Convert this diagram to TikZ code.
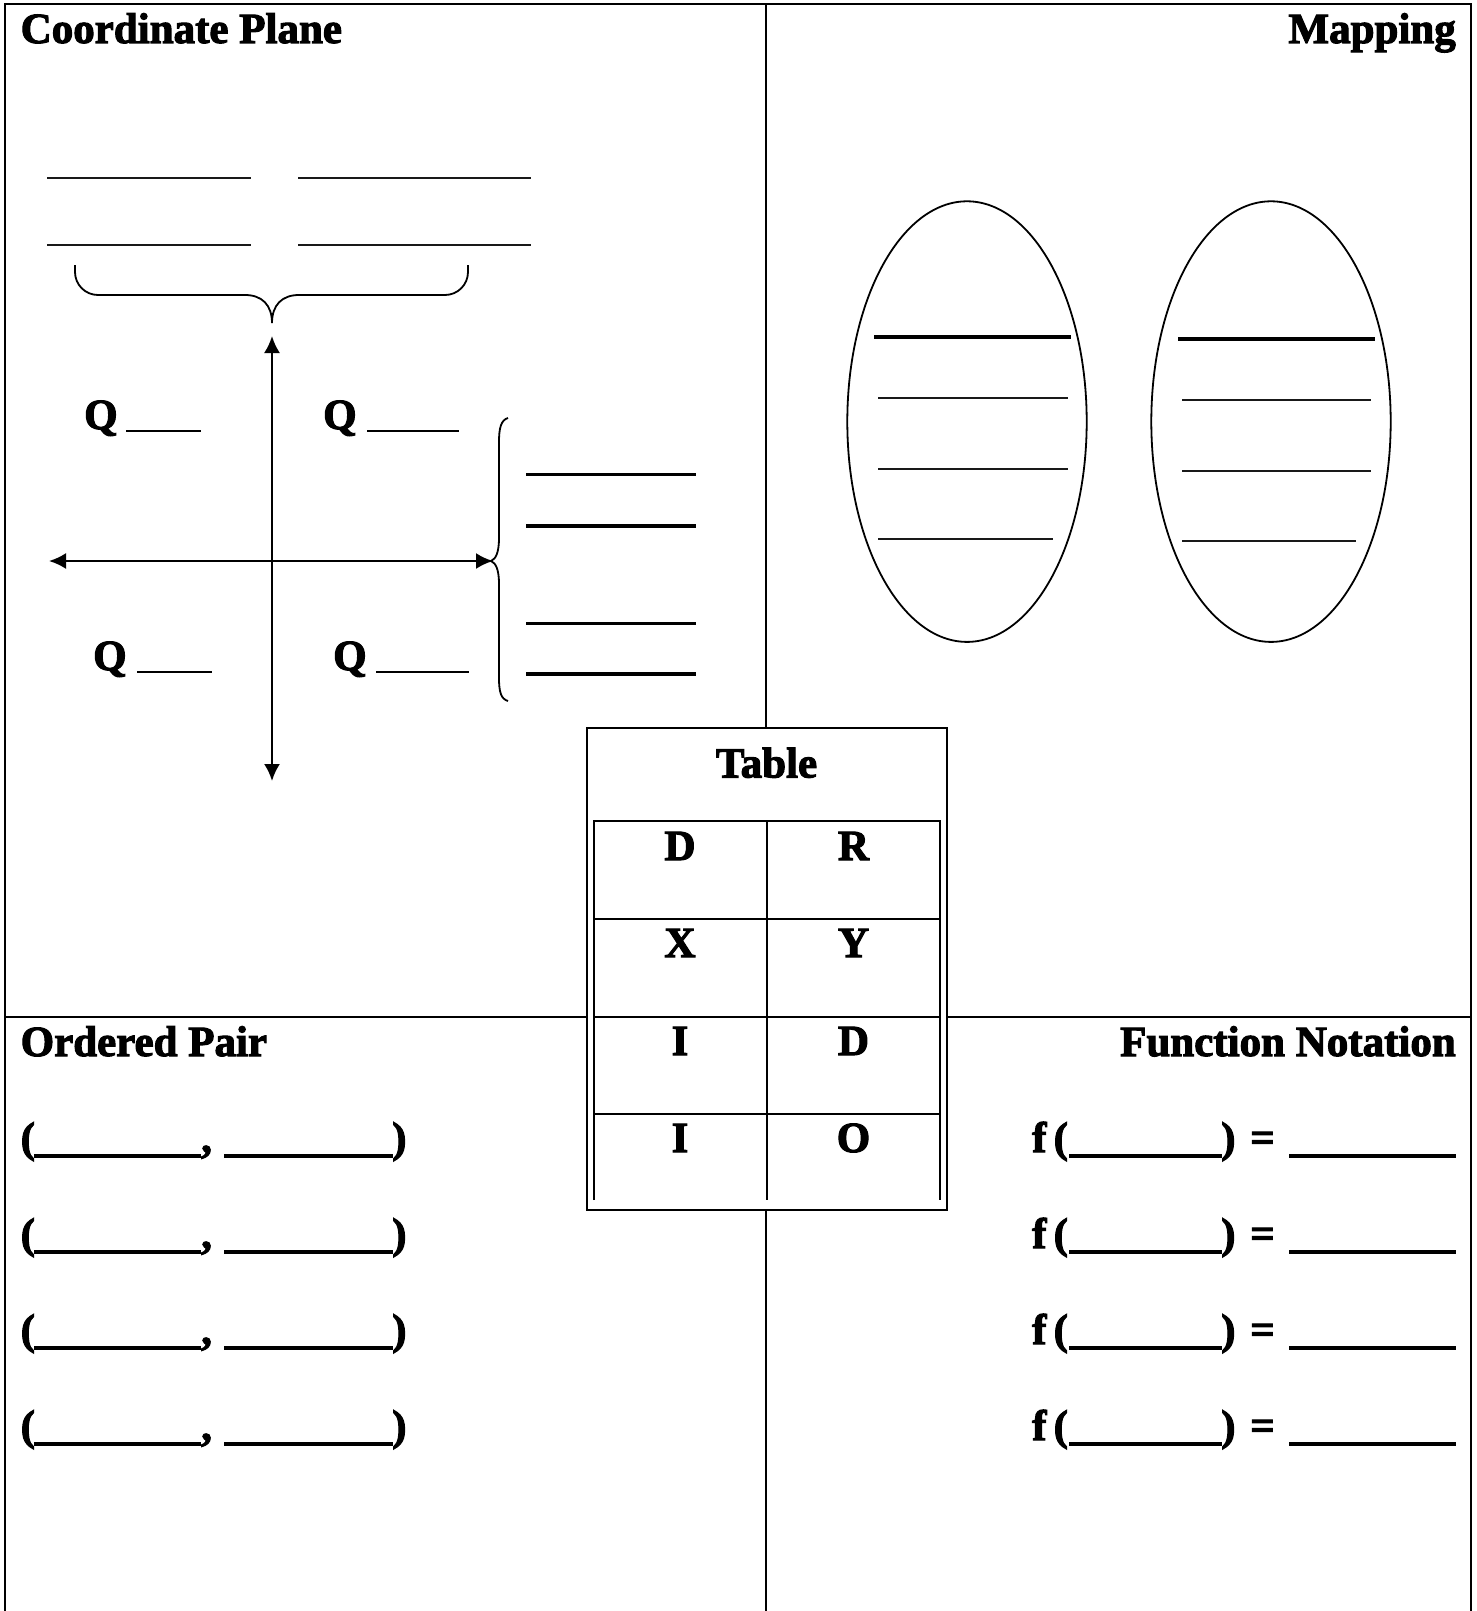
\documentclass[tikz,border=0pt]{standalone}
\usepackage{fontspec}
\setmainfont{Liberation Serif}[BoldFeatures={FakeBold=2.5}]
\usetikzlibrary{arrows.meta}
\begin{document}
\begin{tikzpicture}[x=1pt,y=-1pt,
  lbl/.style={inner sep=0pt,font=\fontsize{43}{46}\selectfont\bfseries},
  frame/.style={line width=1.6pt},
  tline/.style={line width=2pt},
  thinblank/.style={line width=2pt,black!90},
  thickblank/.style={line width=3.6pt},
  qblank/.style={line width=2.6pt},
  ansblank/.style={line width=3.4pt},
  axis/.style={line width=2.2pt,{Latex[length=17pt,width=16pt]}-{Latex[length=17pt,width=16pt]}},
  curly/.style={line width=1.8pt}]
\useasboundingbox (0,0) rectangle (1477,1611);
\fill[white] (0,0) rectangle (1477,1611);
% frame
\draw[frame] (5,1611) -- (5,4) -- (1471,4) -- (1471,1611);
\draw[frame] (766,4) -- (766,1611);
\draw[frame] (5,1017) -- (1471,1017);
% headings
\node[lbl,anchor=base west] (hcp) at (20.5,43) {Coordinate Plane};
\node[lbl,anchor=base east] (hmap) at (1456,43) {Mapping};
\node[lbl,anchor=base west] (hop) at (20.5,1056) {Ordered Pair};
\node[lbl,anchor=base east] (hfn) at (1456,1056) {Function Notation};
% coordinate plane blanks
\foreach \y in {178,244.5}{
  \draw[thinblank] (47,\y) -- (250.5,\y);
  \draw[thinblank] (298,\y) -- (531,\y);
}
% top brace
\draw[curly] (75,265) -- (75,272) arc[start angle=180,end angle=90,radius=23] -- (245,295)
  .. controls (262,295) and (272,305) .. (272,323);
\draw[curly] (468,265) -- (468,272) arc[start angle=0,end angle=90,radius=23] -- (299,295)
  .. controls (282,295) and (272,305) .. (272,323);
% axes
\coordinate (ytop) at (272,336);
\coordinate (ybot) at (272,781);
\coordinate (xl) at (49,561);
\coordinate (xr) at (493,561);
\draw[axis] (ybot) -- (ytop);
\draw[axis] (xl) -- (xr);
% quadrant labels
\node[lbl,anchor=base west] (q2) at (84,429) {Q};
\draw[qblank] (126,431) -- (201,431);
\node[lbl,anchor=base west] (q1) at (323,429) {Q};
\draw[qblank] (367,431) -- (459,431);
\node[lbl,anchor=base west] (q3) at (93,670) {Q};
\draw[qblank] (137,672) -- (212,672);
\node[lbl,anchor=base west] (q4) at (333,670) {Q};
\draw[qblank] (376,672) -- (469,672);
% right brace
\draw[curly] (508,418) .. controls (501,420) and (499,428) .. (499,442) -- (499,538)
  .. controls (499,552) and (496,559) .. (491,561)
  .. controls (496,563) and (499,570) .. (499,584) -- (499,678)
  .. controls (499,692) and (501,699) .. (508,701);
\foreach \y in {474.5,526,623.5,674}{
  \draw[thickblank] (526,\y) -- (696,\y);
}
% mapping ellipses
\draw[line width=1.8pt] (967,421.6) ellipse[x radius=119.7,y radius=220.3];
\draw[line width=1.8pt] (1271,421.6) ellipse[x radius=119.7,y radius=220.3];
\draw[thickblank] (874,337) -- (1071,337);
\draw[thinblank] (878,397.5) -- (1068,397.5);
\draw[thinblank] (878,469.4) -- (1068,469.4);
\draw[thinblank] (878,539.2) -- (1053,539.2);
\draw[thickblank] (1178,339) -- (1375,339);
\draw[thinblank] (1182,399.5) -- (1371,399.5);
\draw[thinblank] (1182,471.4) -- (1371,471.4);
\draw[thinblank] (1182,541.3) -- (1356,541.3);
% table
\draw[tline,fill=white] (587.3,728.3) rectangle (946.7,1210);
\node[lbl,anchor=base] (ttl) at (766.5,777.5) {Table};
\draw[tline] (594,1200) -- (594,820.7) -- (940,820.7) -- (940,1200);
\draw[tline] (766.7,820.7) -- (766.7,1200);
\foreach \y in {919,1016.7,1114.3}{
  \draw[tline] (594,\y) -- (940,\y);
}
\node[lbl,anchor=base] (d1) at (680,860) {D};
\node[lbl,anchor=base] (r1) at (853.5,860) {R};
\node[lbl,anchor=base] (x1) at (680,957) {X};
\node[lbl,anchor=base] (y1) at (853.5,957) {Y};
\node[lbl,anchor=base] (i1) at (680,1055) {I};
\node[lbl,anchor=base] (d2) at (853.5,1055) {D};
\node[lbl,anchor=base] (i2) at (680,1152) {I};
\node[lbl,anchor=base] (o1) at (853.5,1152) {O};
% ordered pairs and function notation
\foreach \y [count=\i] in {1152,1248,1344,1440}{
  \node[lbl,anchor=base west] (opl\i) at (20.5,\y) {(};
  \draw[ansblank] (34,\y+4) -- (201,\y+4);
  \node[lbl,anchor=base west] (opc\i) at (201,\y) {,};
  \draw[ansblank] (224,\y+4) -- (393,\y+4);
  \node[lbl,anchor=base west] (opr\i) at (392,\y) {)};
  \node[lbl,anchor=base west] (fl\i) at (1032,\y) {f\,(};
  \draw[ansblank] (1069,\y+4) -- (1222,\y+4);
  \node[lbl,anchor=base west] (fr\i) at (1221,\y) {)};
  \node[lbl,anchor=base west] (feq\i) at (1250,\y) {=};
  \draw[ansblank] (1289,\y+4) -- (1456,\y+4);
}
\end{tikzpicture}
\end{document}
